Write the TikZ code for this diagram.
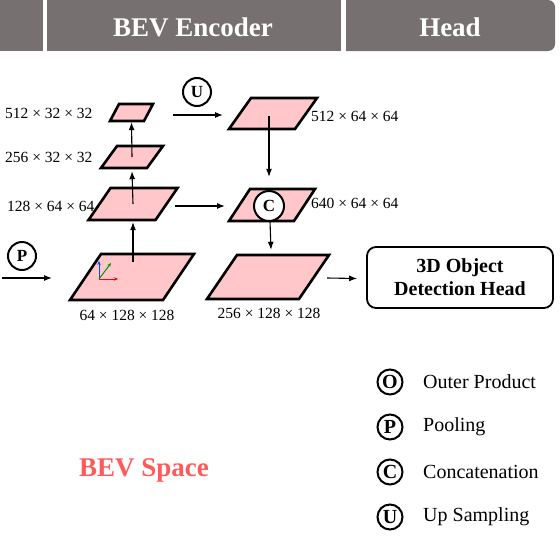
\documentclass[tikz,border=0pt]{standalone}
\usepackage{fontspec}
\setmainfont{Liberation Serif}
\usetikzlibrary{arrows.meta,calc}
\definecolor{hdr}{HTML}{767170}
\definecolor{pinkf}{HTML}{FFC7C9}
\definecolor{bevred}{HTML}{FF5A5A}
\newcommand{\mypara}[6]{%
  \draw[parastyle] ({#2-#4/2+#6/2},{#3-#5/2}) -- ({#2+#4/2+#6/2},{#3-#5/2})
     -- ({#2+#4/2-#6/2},{#3+#5/2}) -- ({#2-#4/2-#6/2},{#3+#5/2}) -- cycle;
  \node[inner sep=0pt, minimum width=#4pt, minimum height=#5pt] (#1) at (#2,#3) {};}
\newcommand{\opnode}[6]{% name, x, y, radius, letter, font size
  \fill[white] (#2,#3) circle [radius=#4pt];
  \draw[ringline] (#2,#3) circle [radius=#4pt];
  \node[opletter, font=\fontsize{#6}{#6}\selectfont\bfseries] (#1) at (#2,#3) {#5};}
\begin{document}
\begin{tikzpicture}[x=1pt,y=-1pt,
  parastyle/.style={draw=black, line width=2.6pt, fill=pinkf, line join=miter},
  arr/.style={line width=1.1pt, -{Latex[length=8pt,width=6pt]}},
  ringline/.style={draw=black, line width=2pt},
  opletter/.style={inner sep=0pt},
  dimlabel/.style={inner sep=0pt, font=\fontsize{15.5}{17}\selectfont},
  legtext/.style={anchor=west, inner sep=0pt, font=\fontsize{20}{22}\selectfont},
  hdrtext/.style={text=white, font=\fontsize{27}{30}\selectfont\bfseries},
  axis/.style={line width=1pt, -{Stealth[length=4pt,width=3.5pt]}}]
\useasboundingbox (0,0) rectangle (560,541);
% header
\fill[hdr] (-5,-5) rectangle (43,51);
\fill[hdr] (47,-5) rectangle (341,51);
\fill[hdr] (346,51) [rounded corners=7pt] -- (555,51) -- (555,0) [sharp corners] -- (346,0) -- cycle;
\node[hdrtext] (henc) at (193,27) {BEV Encoder};
\node[hdrtext] (hhead) at (450,27) {Head};
% left column
\mypara{p1}{131.5}{112.5}{34}{17}{9}
\mypara{p2}{132}{157}{46}{22}{16}
\mypara{p3}{133}{204}{67}{32}{22}
\mypara{p4}{132}{277}{93}{46}{31}
% right column
\mypara{r1}{273}{113.5}{66}{31}{22}
\mypara{r2}{272}{205}{65}{32}{21}
\mypara{r3}{268}{277}{92}{44}{30}
% axes
\coordinate (ax0) at (99,279);
\coordinate (axx) at (118,279);
\coordinate (axy) at (99,261);
\coordinate (axz) at (111,263);
\draw[axis, red] (ax0) -- (axx);
\draw[axis, blue!70!cyan] (ax0) -- (axy);
\draw[axis, green!60!black] (ax0) -- (axz);
% dimension labels
\node[dimlabel, anchor=west] (l1) at (5,113) {512 × 32 × 32};
\node[dimlabel, anchor=west] (l2) at (5,157) {256 × 32 × 32};
\node[dimlabel, anchor=west] (l3) at (7,206) {128 × 64 × 64};
\node[dimlabel] (l4) at (127,315) {64 × 128 × 128};
\node[dimlabel, anchor=west] (l5) at (311,116) {512 × 64 × 64};
\node[dimlabel, anchor=west] (l6) at (311,203) {640 × 64 × 64};
\node[dimlabel] (l7) at (269,313) {256 × 128 × 128};
% operator circles
\opnode{opU}{197}{92}{14}{U}{17}
\opnode{opC}{269}{206}{15}{C}{17}
\opnode{opP}{22}{256}{14}{P}{17}
% arrows
\coordinate (pin) at (2,278);
\coordinate (pinend) at (52,278);
\draw[arr] (pin) -- (pinend);
\draw[arr] ($(p4.center)+(1,-15)$) -- ($(p3.south)+(0,2)$);
\draw[arr] (p3.center) -- ($(p2.south)+(0,3)$);
\draw[arr] (p2.center) -- ($(p1.south)+(0,1)$);
\coordinate (ua) at (173,115);
\coordinate (ub) at (223,115);
\draw[arr] (ua) -- (ub);
\coordinate (ca) at (175,206);
\coordinate (cb) at (225,206);
\draw[arr] (ca) -- (cb);
\draw[arr] ($(r1.south)+(-4,-13)$) -- ($(r2.north)+(-3,-12)$);
\draw[arr] ($(opC.center)+(1,15)$) -- ($(r3.north)+(3,-5)$);
\node[draw=black, line width=1.8pt, rounded corners=9pt, minimum width=186pt, minimum height=61pt, inner sep=0pt, align=center, font=\fontsize{20}{23}\selectfont\bfseries] (head) at (460,277.5) {3D Object\\Detection Head};
\draw[arr] ($(r3.east)+(13,1)$) -- ($(head.west)+(-9,1)$);
% BEV space
\node[text=bevred, font=\fontsize{27}{30}\selectfont\bfseries] (bev) at (144,470) {BEV Space};
% legend
\opnode{lgO}{390}{382}{12.5}{O}{20}
\opnode{lgP}{390}{427}{12.5}{P}{20}
\opnode{lgC}{390}{472}{12.5}{C}{20}
\opnode{lgU}{390}{517}{12.5}{U}{20}
\node[legtext] (tO) at (423,382) {Outer Product};
\node[legtext] (tP) at (423,427) {Pooling};
\node[legtext] (tC) at (423,472) {Concatenation};
\node[legtext] (tU) at (423,517) {Up Sampling};
\end{tikzpicture}
\end{document}
